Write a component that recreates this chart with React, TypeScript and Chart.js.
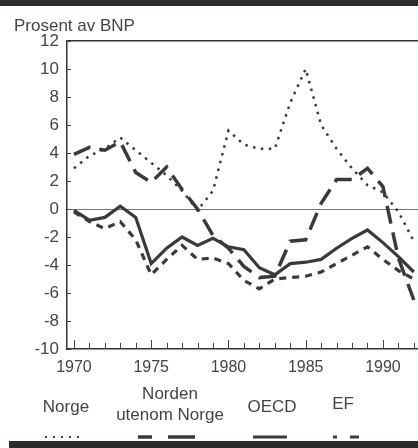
import { useEffect, useRef } from 'react';
import { Chart, registerables } from 'chart.js';

Chart.register(...registerables);

const years = [1970, 1971, 1972, 1973, 1974, 1975, 1976, 1977, 1978, 1979, 1980, 1981, 1982, 1983, 1984, 1985, 1986, 1987, 1988, 1989, 1990, 1991, 1992];
const norge = [2.9, 3.8, 4.3, 5.1, 4.2, 3.3, 2.4, 1.3, -0.1, 1.3, 5.6, 4.6, 4.3, 4.3, 7.6, 10.0, 6.0, 4.3, 2.9, 1.7, 1.2, -0.2, -2.3];
const norden = [3.9, 4.4, 4.2, 4.8, 2.6, 1.9, 3.0, 1.4, 0.0, -1.9, -2.8, -4.1, -4.9, -4.8, -2.3, -2.2, 0.4, 2.1, 2.1, 2.9, 1.6, -3.5, -6.5];
const oecd = [-0.1, -0.8, -0.6, 0.2, -0.6, -3.9, -2.8, -2.0, -2.6, -2.1, -2.7, -2.9, -4.2, -4.7, -3.9, -3.8, -3.6, -2.8, -2.1, -1.5, -2.4, -3.4, -4.5];
const ef = [-0.2, -0.9, -1.4, -0.9, -2.2, -4.7, -3.6, -2.6, -3.6, -3.5, -3.9, -5.1, -5.7, -5.0, -4.9, -4.8, -4.5, -3.9, -3.3, -2.7, -3.6, -4.4, -5.0];

const xTickLabels = ['1970', '1975', '1980', '1985', '1990'];
const yTickLabels = ['-10', '-8', '-6', '-4', '-2', '0', '2', '4', '6', '8', '10', '12'];
const seriesNames = ['Norge', 'Norden utenom Norge', 'OECD', 'EF'];

const INK = '#3a3a3a';
const FONT = '"Liberation Sans", Arial, sans-serif';

const tickPlugin = {
  id: 'inwardTicks',
  afterDraw(chart: any) {
    const { ctx, chartArea, scales } = chart;
    const x = scales.x;
    const y = scales.y;
    ctx.save();
    ctx.strokeStyle = '#444';
    ctx.lineWidth = 1;
    ctx.beginPath();
    for (const yr of years) {
      const px = Math.round(x.getPixelForValue(yr)) + 0.5;
      const len = yr % 5 === 0 ? 9 : 6;
      ctx.moveTo(px, chartArea.bottom);
      ctx.lineTo(px, chartArea.bottom - len);
    }
    for (const lbl of yTickLabels) {
      const py = Math.round(y.getPixelForValue(Number(lbl))) + 0.5;
      ctx.moveTo(chartArea.left, py);
      ctx.lineTo(chartArea.left + 4, py);
    }
    ctx.stroke();
    ctx.restore();
  },
};

function App() {
  const ref = useRef<HTMLCanvasElement | null>(null);

  useEffect(() => {
    if (!ref.current) return;
    const mk = (vals: number[]) => years.map((yr, i) => ({ x: yr, y: vals[i] }));
    const chart = new Chart(ref.current, {
      type: 'line',
      data: {
        datasets: [
          { label: seriesNames[0], data: mk(norge), borderColor: INK, borderWidth: 2.5, borderDash: [2.5, 5.5], pointRadius: 0, borderCapStyle: 'butt' },
          { label: seriesNames[1], data: mk(norden), borderColor: INK, borderWidth: 3.5, borderDash: [18, 9], pointRadius: 0, borderCapStyle: 'butt' },
          { label: seriesNames[2], data: mk(oecd), borderColor: INK, borderWidth: 3.2, pointRadius: 0 },
          { label: seriesNames[3], data: mk(ef), borderColor: INK, borderWidth: 3.2, borderDash: [7, 6], pointRadius: 0, borderCapStyle: 'butt' },
        ],
      },
      options: {
        animation: false,
        responsive: false,
        maintainAspectRatio: false,
        layout: { padding: { top: 41, left: 0, right: 0, bottom: 0 } },
        plugins: { legend: { display: false }, tooltip: { enabled: false } },
        scales: {
          x: {
            type: 'linear',
            min: 1969.55,
            max: 1992.27,
            afterFit: (s: any) => { s.height = 99; },
            border: { display: true, color: '#333', width: 1.5 },
            grid: { display: false, drawTicks: false },
            ticks: {
              stepSize: 5,
              includeBounds: false,
              autoSkip: false,
              maxRotation: 0,
              padding: 9,
              color: '#444',
              font: { family: FONT, size: 16 },
              callback: (v: any) => {
                const s = String(Math.round(Number(v)));
                return xTickLabels.includes(s) ? s : '';
              },
            },
          },
          y: {
            min: -10,
            max: 12,
            afterFit: (s: any) => { s.width = 67; },
            border: { display: true, color: '#333', width: 1.5 },
            grid: {
              drawTicks: false,
              color: (c: any) => (c.tick && c.tick.value === 0 ? '#777' : c.tick && c.tick.value === 12 ? '#333' : 'rgba(0,0,0,0)'),
              lineWidth: (c: any) => (c.tick && c.tick.value === 12 ? 1.5 : 1),
            },
            ticks: {
              stepSize: 2,
              padding: 8,
              color: '#444',
              font: { family: FONT, size: 17 },
              callback: (v: any) => {
                const s = String(Math.round(Number(v)));
                return yTickLabels.includes(s) ? s : '';
              },
            },
          },
        },
      },
      plugins: [tickPlugin],
    });
    return () => chart.destroy();
  }, []);

  const txt: any = { position: 'absolute', fontFamily: FONT, fontSize: 17, color: '#444', textAlign: 'center', lineHeight: '21px', whiteSpace: 'nowrap' };

  return (
    <div style={{ position: 'fixed', left: 0, top: 0, width: 418, height: 448, background: '#fff', overflow: 'hidden' }}>
      <div style={{ position: 'absolute', left: 0, top: 0, width: 418, height: 6, background: '#2f2b2d' }} />
      <canvas ref={ref} width={418} height={448} style={{ position: 'absolute', left: 0, top: 0 }} />
      <div style={{ position: 'absolute', left: 14, top: 16, fontFamily: FONT, fontSize: 17, color: '#444', whiteSpace: 'nowrap', lineHeight: '19px' }}>Prosent av BNP</div>
      <div style={{ ...txt, left: 16, width: 100, top: 396 }}>{seriesNames[0]}</div>
      <div style={{ ...txt, left: 110, width: 120, top: 383 }}>Norden<br />utenom Norge</div>
      <div style={{ ...txt, left: 222, width: 100, top: 396 }}>{seriesNames[2]}</div>
      <div style={{ ...txt, left: 293, width: 100, top: 393 }}>{seriesNames[3]}</div>
      <svg width={418} height={448} style={{ position: 'absolute', left: 0, top: 0, pointerEvents: 'none' }}>
        <line x1={45} y1={437} x2={81} y2={437} stroke={INK} strokeWidth={2.2} strokeDasharray="2 6" />
        <line x1={138} y1={437} x2={152} y2={437} stroke={INK} strokeWidth={3.5} />
        <line x1={168} y1={437} x2={195} y2={437} stroke={INK} strokeWidth={3.5} />
        <line x1={253} y1={437} x2={287} y2={437} stroke={INK} strokeWidth={3} />
        <line x1={333} y1={437} x2={337} y2={437} stroke={INK} strokeWidth={3} />
        <line x1={350} y1={437} x2={359} y2={437} stroke={INK} strokeWidth={3} />
      </svg>
      <div style={{ position: 'absolute', left: 9, top: 441, width: 409, height: 7, background: '#2f2b2d' }} />
    </div>
  );
}

export default App;
